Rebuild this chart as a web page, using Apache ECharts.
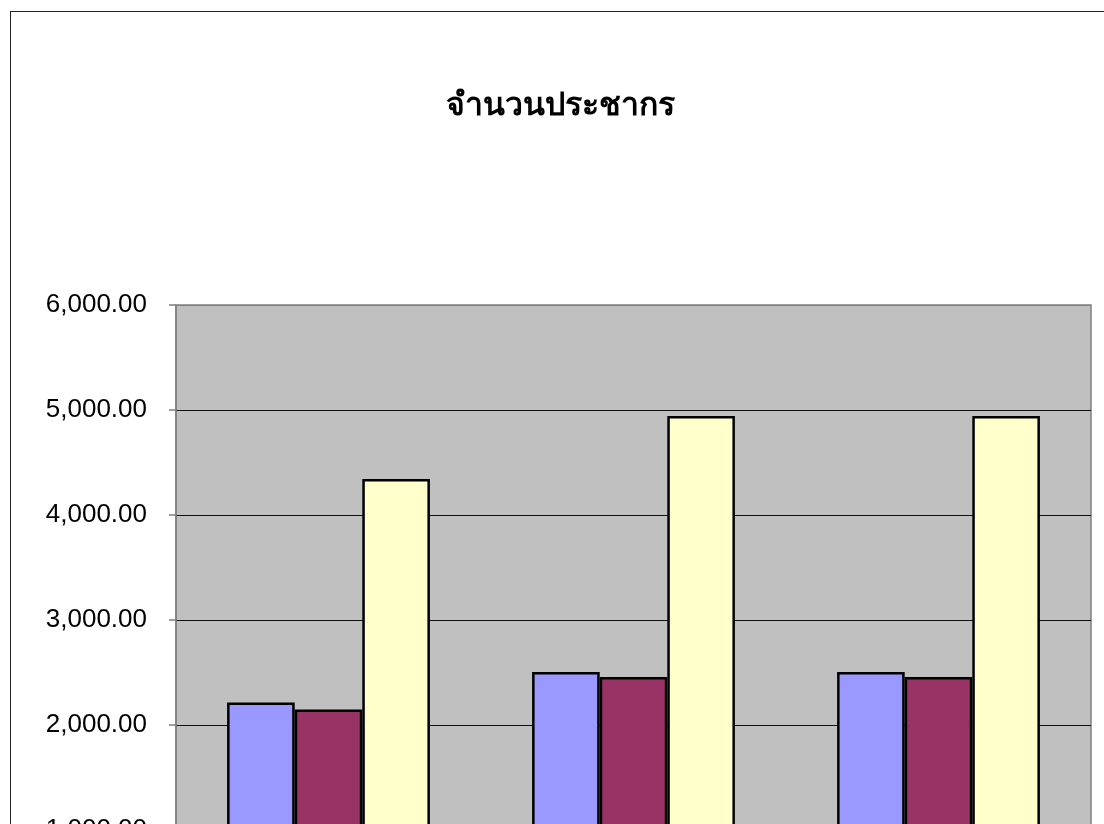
<!DOCTYPE html>
<html>
<head>
<meta charset="utf-8">
<script src="https://cdn.jsdelivr.net/npm/echarts@6/dist/echarts.min.js"></script>
<style>
html,body{margin:0;padding:0;background:#fff;overflow:hidden;}
#frame{position:absolute;left:10px;top:11px;width:1110px;height:1100px;border:1.5px solid #222;box-sizing:border-box;}
#chart{position:absolute;left:0;top:0;width:1104px;height:1100px;}
</style>
</head>
<body>
<div id="frame"></div>
<div id="chart"></div>
<script>
const titleText = 'จำนวนประชากร';
const categories = ['2550', '2551', '2552'];
const seriesNames = ['ชาย', 'หญิง', 'รวม'];
const male = [2215, 2505, 2505];
const female = [2148, 2458, 2458];
const total = [4343, 4943, 4943];
const seriesColors = ['#9999FF', '#993366', '#FFFFCC'];

const chart = echarts.init(document.getElementById('chart'));
const valuesList = [male, female, total];
chart.setOption({
  animation: false,
  title: {
    text: titleText,
    left: 555, textAlign: 'center',
    top: 86,
    textStyle: {fontFamily: 'DejaVu Sans Condensed, Liberation Sans, sans-serif', fontSize: 32, fontWeight: 'bold', color: '#000'}
  },
  legend: {show: false},
  grid: {left: 176, top: 305, width: 915, height: 630, show: true, backgroundColor: '#C0C0C0', borderColor: '#808080', borderWidth: 1.5},
  xAxis: {
    type: 'category', data: categories,
    axisLine: {lineStyle: {color: '#808080'}},
    axisTick: {show: false},
    axisLabel: {fontFamily: 'Liberation Sans', fontSize: 26, color: '#000'}
  },
  yAxis: {
    type: 'value', min: 0, max: 6000, interval: 1000,
    axisLine: {show: true, lineStyle: {color: '#808080', width: 1.5}},
    axisTick: {show: true, length: 7, lineStyle: {color: '#808080', width: 1.5}},
    axisLabel: {
      margin: 29, fontFamily: 'Liberation Sans', fontSize: 26, color: '#000',
      formatter: v => v.toLocaleString('en-US', {minimumFractionDigits: 2, maximumFractionDigits: 2})
    },
    splitLine: {lineStyle: {color: ['#111','#111','#111','#111','#111','#111','#808080'], width: 1.2}}
  },
  series: valuesList.map((vals, i) => ({
    name: seriesNames[i], type: 'bar', data: vals,
    barGap: '0%', barCategoryGap: '33.5%',
    itemStyle: {color: seriesColors[i], borderColor: '#000', borderWidth: 2.5}
  }))
});
</script>
</body>
</html>
